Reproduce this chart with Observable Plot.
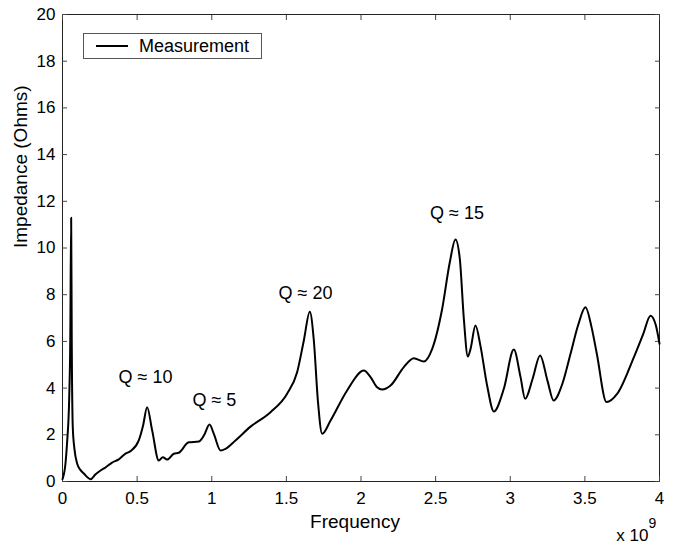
<!DOCTYPE html>
<html>
<head>
<meta charset="utf-8">
<script src="https://cdn.jsdelivr.net/npm/d3@7"></script>
<script src="https://cdn.jsdelivr.net/npm/@observablehq/plot@0.6"></script>
<style>
  body { margin: 0; background: #fff; }
  #wrap { position: relative; width: 674px; height: 545px; font-family: "Liberation Sans", Arial, sans-serif; }
  #legend { position: absolute; left: 83px; top: 33px; width: 177px; height: 24px; border: 1px solid #555; background: #fff; }
  #legend .swatch { position: absolute; left: 12px; top: 11px; width: 32px; height: 0; border-top: 2px solid #000; }
  #legend .lbl { position: absolute; left: 55px; top: 1px; font-size: 18px; line-height: 22px; color: #000; }
</style>
</head>
<body>
<div id="wrap"></div>
<script>
// Frequency in units of 1e9 Hz
const freq = [0, 0.02, 0.03, 0.045, 0.052, 0.058, 0.062, 0.069, 0.08, 0.098, 0.12, 0.143, 0.188,
  0.22, 0.255, 0.288, 0.33, 0.377, 0.422, 0.456, 0.511, 0.54, 0.567, 0.601, 0.645, 0.672, 0.701, 0.746, 0.779,
  0.846, 0.913, 0.95, 0.985, 1.014, 1.059, 1.092, 1.159, 1.26, 1.394, 1.505, 1.572, 1.617, 1.657, 1.684,
  1.711, 1.74, 1.796, 1.907, 2.019, 2.064, 2.108, 2.142, 2.198, 2.287, 2.354, 2.421, 2.477, 2.544, 2.595,
  2.633, 2.662, 2.689, 2.716, 2.734, 2.767, 2.8, 2.845, 2.89, 2.957, 3.024, 3.069, 3.10, 3.15, 3.20, 3.25,
  3.29, 3.35, 3.404, 3.455, 3.504, 3.545, 3.58, 3.645, 3.717, 3.828, 3.89, 3.94, 3.975, 4.0];
const impedance = [0.1, 0.77, 1.6, 3.6, 6.0, 11.3, 6.0, 2.3, 1.4, 0.77, 0.5, 0.34, 0.1,
  0.3, 0.47, 0.6, 0.8, 0.95, 1.19, 1.3, 1.76, 2.4, 3.18, 2.18, 0.9, 1.04, 0.94, 1.19, 1.23,
  1.68, 1.71, 2.0, 2.44, 2.04, 1.33, 1.4, 1.76, 2.35, 2.97, 3.76, 4.68, 6.04, 7.27, 6.04,
  3.47, 2.04, 2.61, 3.9, 4.75, 4.47, 4.04, 3.94, 4.11, 4.9, 5.28, 5.14, 5.68, 7.4, 9.39,
  10.36, 9.54, 6.97, 5.35, 5.68, 6.68, 5.82, 4.11, 3.0, 3.97, 5.65, 4.47, 3.54, 4.4, 5.4, 4.3,
  3.47, 4.2, 5.47, 6.7, 7.46, 6.6, 5.47, 3.4, 3.76, 5.32, 6.3, 7.1, 6.7, 5.9];

const xTicks = [0, 0.5, 1, 1.5, 2, 2.5, 3, 3.5, 4];
const yTicks = [0, 2, 4, 6, 8, 10, 12, 14, 16, 18, 20];

const xLabel = "Frequency";
const yLabel = "Impedance (Ohms)";

const annoText = ["Q \u2248 10", "Q \u2248 5", "Q \u2248 20", "Q \u2248 15"];
const annoX = [0.556, 1.018, 1.628, 2.643];
const annoY = [4.47, 3.49, 8.06, 11.48];

const data = freq.map((f, i) => ({f, z: impedance[i]}));
const annos = annoText.map((t, i) => ({t, x: annoX[i], y: annoY[i]}));
const fmt = d3.format("~g");

const chart = Plot.plot({
  width: 674,
  height: 545,
  marginLeft: 62,
  marginRight: 15,
  marginTop: 14,
  marginBottom: 64,
  style: {fontFamily: "'Liberation Sans', Arial, sans-serif", fontSize: "17px", color: "#000", background: "#fff"},
  x: {domain: [0, 4]},
  y: {domain: [0, 20]},
  marks: [
    Plot.frame({stroke: "#222", strokeWidth: 1}),
    // tick labels
    Plot.axisX(xTicks, {anchor: "bottom", tickSize: 0, tickPadding: 10, tickFormat: fmt, fontSize: 17, label: null}),
    Plot.axisY(yTicks, {anchor: "left", tickSize: 0, tickPadding: 7, tickFormat: fmt, fontSize: 17, label: null}),
    // inward ticks on all four sides
    Plot.axisX(xTicks, {anchor: "bottom", tickSize: 5, dy: -5, fill: "none", label: null, stroke: "#444"}),
    Plot.axisX(xTicks, {anchor: "top", tickSize: 5, dy: 5, fill: "none", label: null, stroke: "#444"}),
    Plot.axisY(yTicks, {anchor: "left", tickSize: 5, dx: 5, fill: "none", label: null, stroke: "#444"}),
    Plot.axisY(yTicks, {anchor: "right", tickSize: 5, dx: -5, fill: "none", label: null, stroke: "#444"}),
    // axis titles
    Plot.text([xLabel], {frameAnchor: "bottom", lineAnchor: "middle", dx: -6, dy: 40, fontSize: 19, fill: "#000"}),
    Plot.text([yLabel], {frameAnchor: "left", lineAnchor: "middle", rotate: -90, dx: -42, fontSize: 19, fill: "#000"}),
    Plot.line(data, {x: "f", y: "z", stroke: "#000", strokeWidth: 2, curve: "monotone-x"}),
    Plot.text(annos, {x: "x", y: "y", text: "t", fontSize: 18, fill: "#000"}),
    Plot.text(["x 10"], {frameAnchor: "bottom-right", textAnchor: "end", lineAnchor: "middle", dx: -11, dy: 54, fontSize: 17, fill: "#000"}),
    Plot.text(["9"], {frameAnchor: "bottom-right", textAnchor: "middle", lineAnchor: "middle", dx: -7, dy: 42, fontSize: 14, fill: "#000"})
  ]
});

const wrap = document.getElementById("wrap");
wrap.appendChild(chart);
const legend = document.createElement("div");
legend.id = "legend";
legend.innerHTML = '<div class="swatch"></div><div class="lbl">Measurement</div>';
wrap.appendChild(legend);
</script>
</body>
</html>
